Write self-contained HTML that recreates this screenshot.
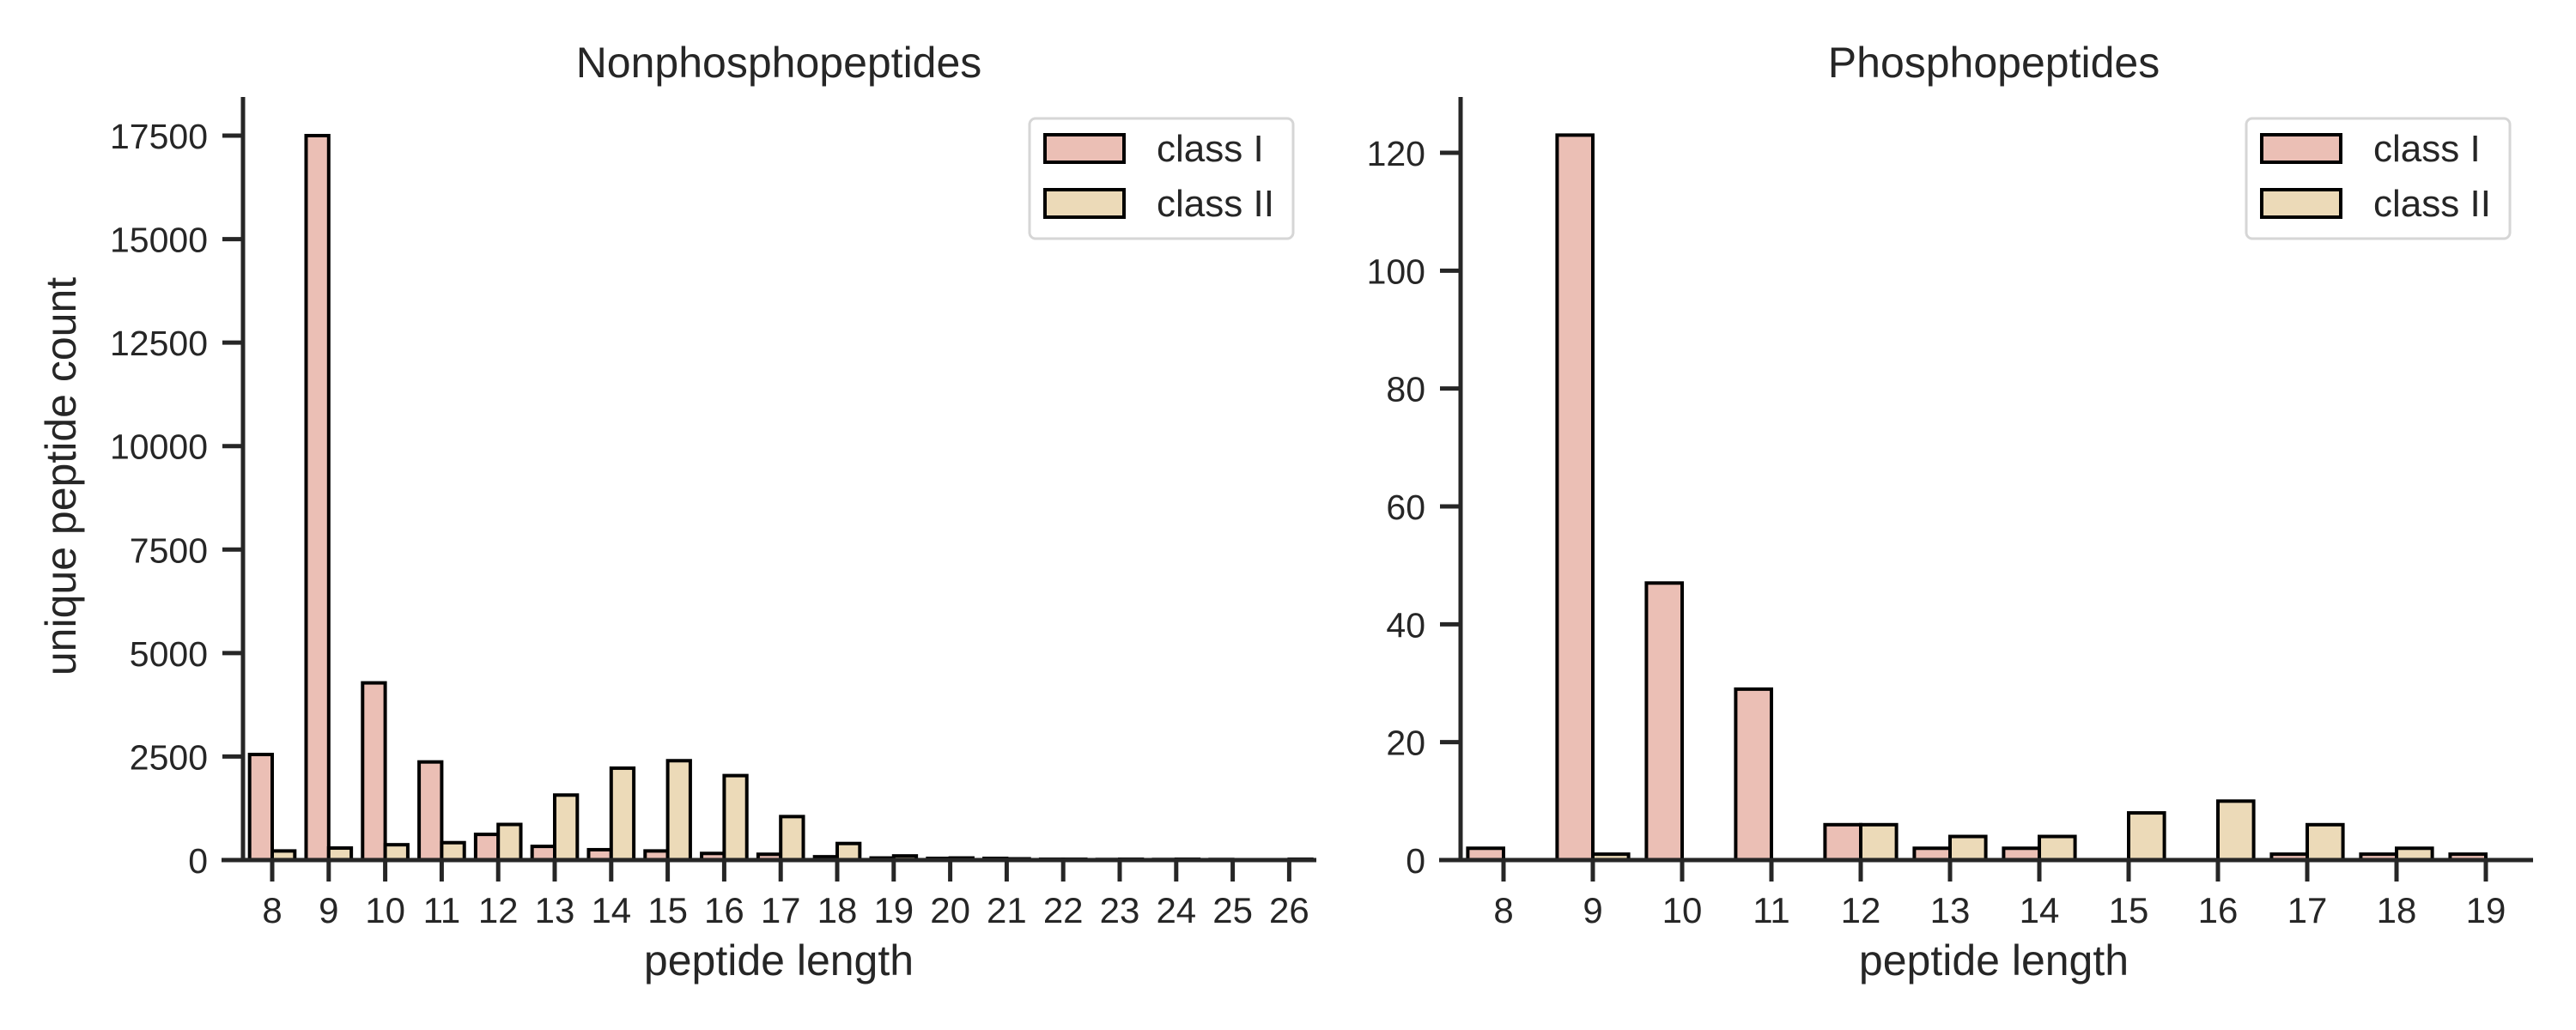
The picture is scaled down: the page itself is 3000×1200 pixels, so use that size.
<!DOCTYPE html>
<html><head><meta charset="utf-8"><style>
html,body{margin:0;padding:0;background:#fff;}
svg{display:block;font-family:"Liberation Sans",Arial,sans-serif;}
</style></head><body>
<svg id="fig" width="3000" height="1200" viewBox="0 0 3000 1200" xmlns="http://www.w3.org/2000/svg">
<rect width="3000" height="1200" fill="#fff"/>
</svg>
<script>
// ---- Data: Nonphosphopeptides ----
const nonCategories = [8,9,10,11,12,13,14,15,16,17,18,19,20,21,22,23,24,25,26];
const nonClassI  = [2550,17500,4280,2370,620,330,250,220,160,140,80,50,40,40,20,15,15,15,10];
const nonClassII = [220,290,370,420,860,1570,2220,2400,2040,1050,400,100,50,30,20,20,20,10,20];
const nonYTicks = [0,2500,5000,7500,10000,12500,15000,17500];
// ---- Data: Phosphopeptides ----
const phCategories = [8,9,10,11,12,13,14,15,16,17,18,19];
const phClassI  = [2,123,47,29,6,2,2,0,0,1,1,1];
const phClassII = [0,1,0,0,6,4,4,8,10,6,2,0];
const phYTicks = [0,20,40,60,80,100,120];
const seriesNames = ["class I","class II"];

const NS="http://www.w3.org/2000/svg";
const svg=document.getElementById('fig');
const INK="#262626";
const COLORS=["#ebbfb5","#ecdab8"];
function mk(tag,attrs,parent){const e=document.createElementNS(NS,tag);for(const k in attrs)e.setAttribute(k,attrs[k]);(parent||svg).appendChild(e);return e;}

function panel(cfg){
  const g=mk('g',{});
  
  
  const base=1002;
  const y=v=>base-v*cfg.yScale;
  const x=i=>cfg.x0+i*cfg.step;
  const bw=cfg.step*0.4;
  [cfg.s1,cfg.s2].forEach((arr,si)=>{
    arr.forEach((v,i)=>{
      if(v<=0) return;
      const left= si===0 ? x(i)-bw : x(i);
      const r=mk('rect',{x:left,y:y(v),width:bw,height:base-y(v),fill:COLORS[si],stroke:"#000","stroke-width":4},g);
      
      
    });
  });
  const ys=mk('line',{x1:cfg.yAxisX,y1:113,x2:cfg.yAxisX,y2:base,stroke:INK,"stroke-width":5},g);
  
  
  const xs=mk('line',{x1:cfg.xStart,y1:base,x2:cfg.xEnd,y2:base,stroke:INK,"stroke-width":5},g);
  
  
  cfg.yTicks.forEach(t=>{
    const ty=y(t);
    const tl=mk('line',{x1:cfg.yAxisX-24,y1:ty,x2:cfg.yAxisX,y2:ty,stroke:INK,"stroke-width":5},g);
    
    
    const tx=mk('text',{x:cfg.yAxisX-41,y:ty+15,"text-anchor":"end","font-size":41,fill:INK},g);
    tx.textContent=t;
    
    
  });
  cfg.cats.forEach((c,i)=>{
    const tl=mk('line',{x1:x(i),y1:base,x2:x(i),y2:base+25,stroke:INK,"stroke-width":5},g);
    
    
    const tx=mk('text',{x:x(i),y:1075,"text-anchor":"middle","font-size":42,fill:INK},g);
    tx.textContent=c;
    
    
  });
  const ti=mk('text',{x:cfg.cx,y:90,"text-anchor":"middle","font-size":50,fill:INK},g);
  ti.textContent=cfg.title;
  
  
  const xl=mk('text',{x:cfg.cx,y:1136,"text-anchor":"middle","font-size":50,fill:INK},g);
  xl.textContent="peptide length";
  
  
  if(cfg.ylabel){
    const yl=mk('text',{x:88,y:555,"text-anchor":"middle","font-size":50,fill:INK,transform:"rotate(-90 88 555)"},g);
    yl.textContent=cfg.ylabel;
    
    
  }
  const lg=mk('g',{transform:`translate(${cfg.legX},0)`},g);
  
  
  mk('rect',{x:1199,y:138,width:307,height:140,rx:7,fill:"#fff",stroke:"#d6d6d6","stroke-width":3},lg);
  seriesNames.forEach((n,si)=>{
    const e=mk('g',{},lg);
    
    
    mk('rect',{x:1217,y:157+si*64,width:92,height:32,fill:COLORS[si],stroke:"#000","stroke-width":4},e);
    const t=mk('text',{x:1347,y:188+si*64,"font-size":44,fill:INK},e);
    t.textContent=n;
  });
}

panel({name:'nonphospho-panel',title:'Nonphosphopeptides',ylabel:'unique peptide count',
  cats:nonCategories,s1:nonClassI,s2:nonClassII,yTicks:nonYTicks,
  yScale:(1002-158)/17500,x0:317,step:65.8,yAxisX:283,xStart:258,xEnd:1533,cx:907,legX:0});
panel({name:'phospho-panel',title:'Phosphopeptides',ylabel:null,
  cats:phCategories,s1:phClassI,s2:phClassII,yTicks:phYTicks,
  yScale:(1002-178)/120,x0:1751,step:104.0,yAxisX:1701,xStart:1676,xEnd:2950,cx:2322,legX:1417});
</script>
</body></html>
